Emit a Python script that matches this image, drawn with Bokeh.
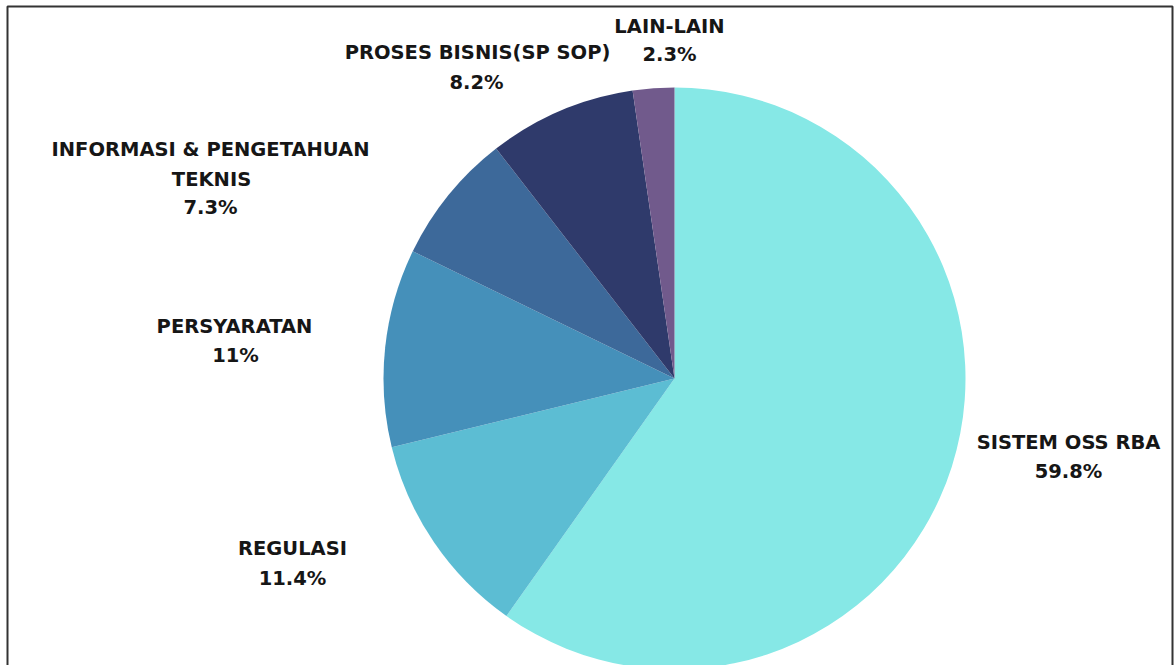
from bokeh.plotting import figure
from bokeh.models import Range1d, ColumnDataSource
from bokeh.core.properties import value
from bokeh.embed import file_html
from bokeh.resources import INLINE
import math

categories = ["SISTEM OSS RBA", "REGULASI", "PERSYARATAN",
              "INFORMASI & PENGETAHUAN TEKNIS", "PROSES BISNIS(SP SOP)", "LAIN-LAIN"]
shares = [59.8, 11.4, 11.0, 7.3, 8.2, 2.3]
pct_labels = ["59.8%", "11.4%", "11%", "7.3%", "8.2%", "2.3%"]
colors = ["#86E8E6", "#5CBDD3", "#4590BA", "#3D699A", "#2F3A6B", "#715A8C"]

# label lines (text) and their anchor positions (screen px)
label_lines = [
    ["SISTEM OSS RBA", "59.8%"],
    ["REGULASI", "11.4%"],
    ["PERSYARATAN", "11%"],
    ["INFORMASI & PENGETAHUAN", "TEKNIS", "7.3%"],
    ["PROSES BISNIS(SP SOP)", "8.2%"],
    ["LAIN-LAIN", "2.3%"],
]
label_pos = [
    [(1068, 442), (1068, 471)],
    [(292, 548), (292, 578)],
    [(234, 326), (235, 355)],
    [(210, 149), (211, 179), (210, 207)],
    [(477, 52), (476, 82)],
    [(669, 26), (669, 54)],
]

W, H = 1176, 665
p = figure(width=W, height=H, output_backend="svg", toolbar_location=None,
           x_range=Range1d(0, W), y_range=Range1d(0, H),
           min_border=0, outline_line_color=None)
p.axis.visible = False
p.grid.visible = False
p.background_fill_color = "white"
p.border_fill_color = "white"

cx, cy, r = 674, H - 378, 291
total = sum(shares)
starts, ends = [], []
cum = 0.0
for s in shares:
    a0 = math.pi / 2 - 2 * math.pi * cum / total
    cum += s
    a1 = math.pi / 2 - 2 * math.pi * cum / total
    starts.append(a1)
    ends.append(a0)

src = ColumnDataSource(dict(cat=categories, start=starts, end=ends, color=colors))
p.wedge(x=cx, y=cy, radius=r, start_angle="start", end_angle="end",
        fill_color="color", line_color=None, source=src)

xs, ys, ts = [], [], []
for lines, poss in zip(label_lines, label_pos):
    for t, (x, y) in zip(lines, poss):
        xs.append(x); ys.append(H - y); ts.append(t)
p.text(x=xs, y=ys, text=ts, text_align="center", text_baseline="middle",
       text_font=value("DejaVu Sans"), text_font_style="bold",
       text_font_size="19.5px", text_color="#161616")

# outer frame
p.quad(left=7, right=1172, top=H - 6, bottom=-10, fill_color=None,
       line_color="#333333", line_width=2)

open("out.html", "w").write(file_html(p, INLINE))
